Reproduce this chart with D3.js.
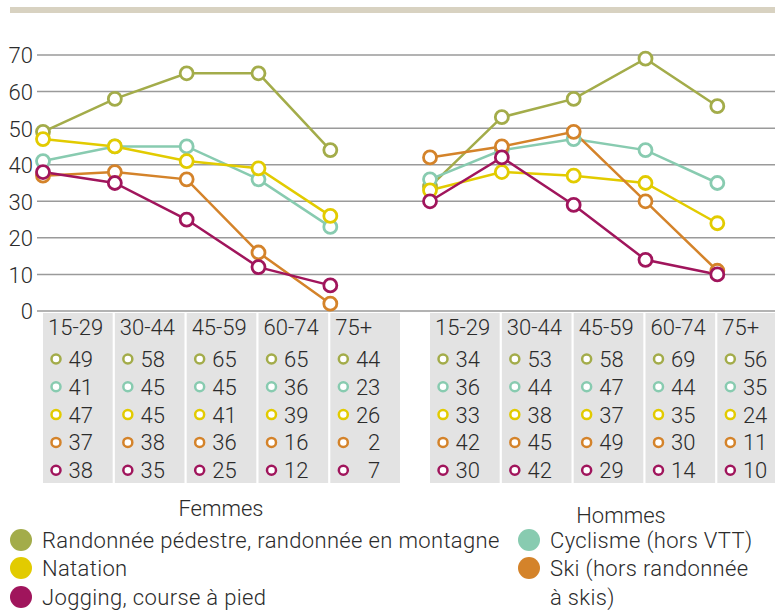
<!DOCTYPE html>
<html>
<head>
<meta charset="utf-8">
<script src="https://cdn.jsdelivr.net/npm/d3@7"></script>
<style>
  body { margin: 0; background: #fff; }
  svg text { font-family: Roboto, "DejaVu Sans", sans-serif; font-weight: 300; fill: #2b2b2b; }
</style>
</head>
<body>
<svg id="chart" width="775" height="610"></svg>
<script>
const ages = ["15-29", "30-44", "45-59", "60-74", "75+"];
const activities = [
  "Randonnée pédestre, randonnée en montagne",
  "Cyclisme (hors VTT)",
  "Natation",
  "Ski (hors randonnée à skis)",
  "Jogging, course à pied"
];
const colors = ["#a3ac4a", "#88cbb0", "#e2cb00", "#d4832a", "#a0155c"];

// values per activity, one per age group
const femmes = [
  [49, 58, 65, 65, 44],
  [41, 45, 45, 36, 23],
  [47, 45, 41, 39, 26],
  [37, 38, 36, 16, 2],
  [38, 35, 25, 12, 7]
];
const hommes = [
  [34, 53, 58, 69, 56],
  [36, 44, 47, 44, 35],
  [33, 38, 37, 35, 24],
  [42, 45, 49, 30, 11],
  [30, 42, 29, 14, 10]
];
const yTicks = [0, 10, 20, 30, 40, 50, 60, 70];

const svg = d3.select("#chart");

// top band
svg.append("rect")
  .attr("x", 10).attr("y", 7).attr("width", 765).attr("height", 6)
  .attr("fill", "#d8d2c1");

const y = d3.scaleLinear().domain([0, 70]).range([311, 55]);

// grid + y labels
const yAxis = d3.axisLeft(y).tickValues(yTicks).tickSize(0).tickPadding(4);
const ga = svg.append("g").attr("transform", "translate(37,0)").call(yAxis);
ga.select(".domain").remove();
ga.selectAll("text").attr("font-size", 22).attr("dy", "0.36em");
svg.append("g").selectAll("line").data(yTicks).join("line")
  .attr("x1", 37).attr("x2", 775)
  .attr("y1", d => y(d)).attr("y2", d => y(d))
  .attr("stroke", "#9a9a9a").attr("stroke-width", 1.5);

const panels = [
  { name: "Femmes", data: femmes, range: [43, 400], label: [221, 516] },
  { name: "Hommes", data: hommes, range: [430, 787], label: [621, 523] }
];

panels.forEach(p => {
  const x = d3.scaleBand().domain(ages).range(p.range).paddingInner(0.03);
  const g = svg.append("g");

  // table cells
  const cell = g.selectAll(".cell").data(ages).join("g").attr("class", "cell")
    .attr("transform", d => `translate(${x(d)},313)`);
  cell.append("rect")
    .attr("width", x.bandwidth()).attr("height", 170)
    .attr("fill", "#e3e3e3");
  cell.append("text").attr("x", 5).attr("y", 22).attr("font-size", 22).text(d => d);
  activities.forEach((a, k) => {
    const row = cell.append("g").attr("transform", `translate(0,${46 + k * 27.8})`);
    row.append("circle").attr("cx", 13).attr("cy", 0).attr("r", 4.5)
      .attr("fill", "#fff").attr("stroke", colors[k]).attr("stroke-width", 2.5);
    row.append("text").attr("x", 50).attr("y", 8).attr("font-size", 22)
      .attr("text-anchor", "end")
      .text((d, i) => p.data[k][ages.indexOf(d)]);
  });

  // lines
  const line = d3.line().x((d, i) => x(ages[i])).y(d => y(d));
  p.data.forEach((vals, k) => {
    g.append("path").datum(vals).attr("d", line)
      .attr("fill", "none").attr("stroke", colors[k]).attr("stroke-width", 2.5);
  });
  p.data.forEach((vals, k) => {
    g.selectAll(null).data(vals).join("circle")
      .attr("cx", (d, i) => x(ages[i])).attr("cy", d => y(d)).attr("r", 6.5)
      .attr("fill", "#fff").attr("stroke", colors[k]).attr("stroke-width", 2.8);
  });

  svg.append("text").attr("x", p.label[0]).attr("y", p.label[1])
    .attr("text-anchor", "middle").attr("font-size", 22).text(p.name);
});

// legend
const legendItems = [
  { k: 0, x: 21, y: 540, lines: [activities[0]] },
  { k: 2, x: 21, y: 568, lines: ["Natation"] },
  { k: 4, x: 21, y: 597, lines: [activities[4]] },
  { k: 1, x: 529, y: 540, lines: [activities[1]] },
  { k: 3, x: 529, y: 568, lines: ["Ski (hors randonnée", "à skis)"] }
];
const lg = svg.append("g").selectAll("g").data(legendItems).join("g")
  .attr("transform", d => `translate(${d.x},${d.y})`);
lg.append("circle").attr("r", 11).attr("fill", d => colors[d.k]);
lg.append("text").attr("x", 21).attr("y", 8).attr("font-size", 22)
  .attr("letter-spacing", 0.35)
  .selectAll("tspan").data(d => d.lines).join("tspan")
  .attr("x", 21).attr("dy", (d, i) => i ? 29 : 0).text(d => d);
</script>
</body>
</html>
